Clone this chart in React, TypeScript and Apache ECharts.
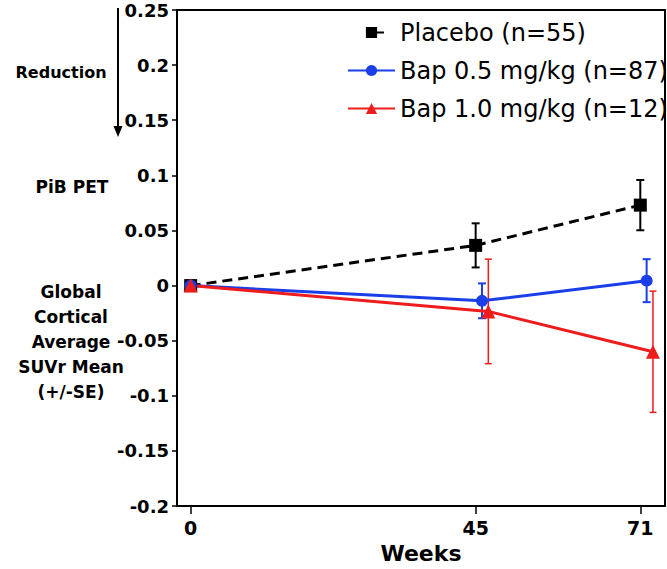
import React, { useEffect, useRef } from "react";
import * as echarts from "echarts";

const weeks = [0, 45, 71];
const placeboMean = [0, 0.0365, 0.073];
const placeboSE = [0.004, 0.02, 0.0228];
const bap05Mean = [0, -0.0138, 0.0045];
const bap05SE = [0.003, 0.0158, 0.0195];
const bap10Mean = [0, -0.0234, -0.06];
const bap10SE = [0.005, 0.0474, 0.055];
const seriesNames = ["Placebo (n=55)", "Bap 0.5 mg/kg (n=87)", "Bap 1.0 mg/kg (n=12)"];
const xTickValues = [0, 45, 71];
const yLeftLines = ["Global", "Cortical", "Average", "SUVr Mean", "(+/-SE)"];

const FONT = "DejaVu Sans";
const BLACK = "#000000";
const BLUE = "#1a3ee8";
const RED = "#ee1c1c";

export default function App() {
  const ref = useRef<HTMLDivElement>(null);
  useEffect(() => {
    if (!ref.current) return;
    const chart = echarts.init(ref.current, undefined, { renderer: "svg" });

    const groups = [
      { name: seriesNames[0], mean: placeboMean, se: placeboSE, shift: 0, color: BLACK, symbol: "rect", size: 13, dashed: true, ebWidth: 2, cap: 4 },
      { name: seriesNames[1], mean: bap05Mean, se: bap05SE, shift: 1, color: BLUE, symbol: "circle", size: 12, dashed: false, ebWidth: 2, cap: 4 },
      { name: seriesNames[2], mean: bap10Mean, se: bap10SE, shift: 2, color: RED, symbol: "triangle", size: 14, dashed: false, ebWidth: 1.5, cap: 3.5 },
    ];
    const xPos = (w: number, shift: number) => (w === 0 ? w : w + shift);

    const errorSeries = groups.map((g) => ({
      type: "custom",
      name: g.name + " SE",
      silent: true,
      data: weeks.map((w, i) => [xPos(w, g.shift), g.mean[i] - g.se[i], g.mean[i] + g.se[i]]),
      encode: { x: 0, y: [1, 2] },
      renderItem: (params: any, api: any) => {
        const x = api.value(0);
        const lo = api.value(1);
        const hi = api.value(2);
        const pt = api.coord([x, hi]);
        const pb = api.coord([x, lo]);
        const st = { stroke: g.color, lineWidth: g.ebWidth };
        return {
          type: "group",
          children: [
            { type: "line", shape: { x1: pt[0], y1: pt[1], x2: pb[0], y2: pb[1] }, style: st },
            { type: "line", shape: { x1: pt[0] - g.cap, y1: pt[1], x2: pt[0] + g.cap, y2: pt[1] }, style: st },
            { type: "line", shape: { x1: pb[0] - g.cap, y1: pb[1], x2: pb[0] + g.cap, y2: pb[1] }, style: st },
          ],
        };
      },
    }));

    const lineSeries = groups.map((g) => ({
      type: "line",
      name: g.name,
      data: weeks.map((w, i) => [xPos(w, g.shift), g.mean[i]]),
      symbol: g.symbol,
      symbolSize: g.size,
      showAllSymbol: true,
      itemStyle: { color: g.color },
      lineStyle: { color: g.color, width: 3, type: g.dashed ? [10, 6] : "solid" },
      emphasis: { disabled: true },
    }));

    const option: any = {
      animation: false,
      backgroundColor: "#ffffff",
      grid: {
        left: 177,
        right: 2,
        top: 10,
        bottom: 62,
        show: true,
        borderColor: BLACK,
        borderWidth: 2,
        backgroundColor: "transparent",
      },
      legend: {
        orient: "vertical",
        left: 342,
        top: 15,
        itemWidth: 47,
        itemHeight: 14,
        itemGap: 13,
        selectedMode: false,
        textStyle: { fontFamily: FONT, fontSize: 24, color: BLACK, lineHeight: 25 },
        data: [
          { name: seriesNames[0], lineStyle: { type: [0, 29, 7, 100] } },
          { name: seriesNames[1] },
          { name: seriesNames[2] },
        ],
      },
      xAxis: {
        type: "value",
        min: -2.16,
        max: 74.9,
        name: "Weeks",
        nameLocation: "middle",
        nameGap: 35,
        nameTextStyle: { fontFamily: FONT, fontSize: 22, fontWeight: "bold", color: BLACK },
        splitLine: { show: false },
        axisLine: { onZero: false, lineStyle: { color: BLACK, width: 2 } },
        axisTick: { customValues: xTickValues, length: 8, lineStyle: { color: BLACK, width: 1.5 } },
        axisLabel: {
          customValues: xTickValues,
          margin: 12,
          fontFamily: FONT,
          fontSize: 19,
          fontWeight: "bold",
          color: BLACK,
        },
      },
      yAxis: {
        type: "value",
        min: -0.2,
        max: 0.25,
        interval: 0.05,
        splitLine: { show: false },
        axisLine: { onZero: false, lineStyle: { color: BLACK, width: 2 } },
        axisTick: { length: 5, lineStyle: { color: BLACK, width: 1.5 } },
        axisLabel: {
          margin: 8,
          fontFamily: FONT,
          fontSize: 18,
          fontWeight: "bold",
          color: BLACK,
          formatter: (v: number) => String(+v.toFixed(2)),
        },
      },
      graphic: [
        {
          type: "text",
          x: 61,
          y: 72,
          style: { text: "Reduction", fontFamily: FONT, fontSize: 16, fontWeight: "bold", fill: BLACK, align: "center", verticalAlign: "middle" },
        },
        { type: "line", shape: { x1: 118, y1: 8, x2: 118, y2: 128 }, style: { stroke: BLACK, lineWidth: 2 } },
        { type: "polygon", shape: { points: [[113.5, 126], [122.5, 126], [118, 137]] }, style: { fill: BLACK } },
        {
          type: "text",
          x: 72,
          y: 187,
          style: { text: "PiB PET", fontFamily: FONT, fontSize: 17, fontWeight: "bold", fill: BLACK, align: "center", verticalAlign: "middle" },
        },
        {
          type: "text",
          x: 71,
          y: 342,
          style: {
            text: yLeftLines.join("\n"),
            fontFamily: FONT,
            fontSize: 17,
            fontWeight: "bold",
            lineHeight: 25,
            fill: BLACK,
            align: "center",
            verticalAlign: "middle",
          },
        },
      ],
      series: [...errorSeries, ...lineSeries],
    };
    chart.setOption(option);
    return () => chart.dispose();
  }, []);
  return <div ref={ref} style={{ position: "fixed", left: 0, top: 0, width: 667, height: 569 }} />;
}
